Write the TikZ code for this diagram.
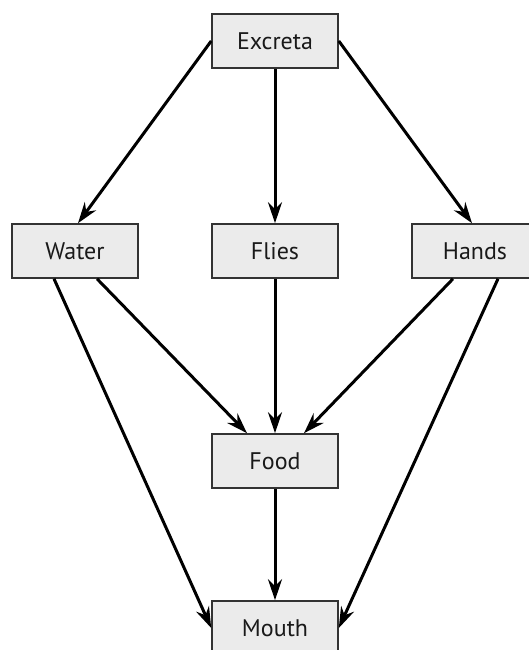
\documentclass[tikz,border=0pt]{standalone}
\usepackage{fontspec}
\setmainfont{PT Sans}
\usetikzlibrary{arrows.meta}
\definecolor{boxfill}{HTML}{EBEBEB}
\definecolor{boxline}{HTML}{333333}
\begin{document}
\begin{tikzpicture}[x=1pt,y=-1pt,
  box/.style={draw=boxline, line width=1.6pt, fill=boxfill, rectangle,
    minimum width=126pt, minimum height=54pt, inner sep=0pt,
    font=\fontsize{24}{28}\selectfont, text=black!90},
  conn/.style={line width=3pt, draw=black,
    -{Stealth[length=21pt,width=14pt,inset=7pt]}}]
\useasboundingbox (0,0) rectangle (528,650);
\node[box] (excreta) at (275,41) {Excreta};
\node[box] (water) at (75,251) {Water};
\node[box] (flies) at (275,251) {Flies};
\node[box] (hands) at (475,251) {Hands};
\node[box] (food) at (275,461) {Food};
\node[box] (mouth) at (275,628) {Mouth};
\draw[conn] (excreta.west) -- ([xshift=3pt]water.north);
\draw[conn] (excreta.south) -- (flies.north);
\draw[conn] (excreta.east) -- ([xshift=-3pt]hands.north);
\draw[conn] ([xshift=22pt]water.south) -- ([xshift=-28pt]food.north);
\draw[conn] ([xshift=-21pt]water.south) -- (mouth.west);
\draw[conn] (flies.south) -- (food.north);
\draw[conn] ([xshift=-22pt]hands.south) -- ([xshift=29pt]food.north);
\draw[conn] ([xshift=23pt]hands.south) -- (mouth.east);
\draw[conn] (food.south) -- (mouth.north);
\end{tikzpicture}
\end{document}
